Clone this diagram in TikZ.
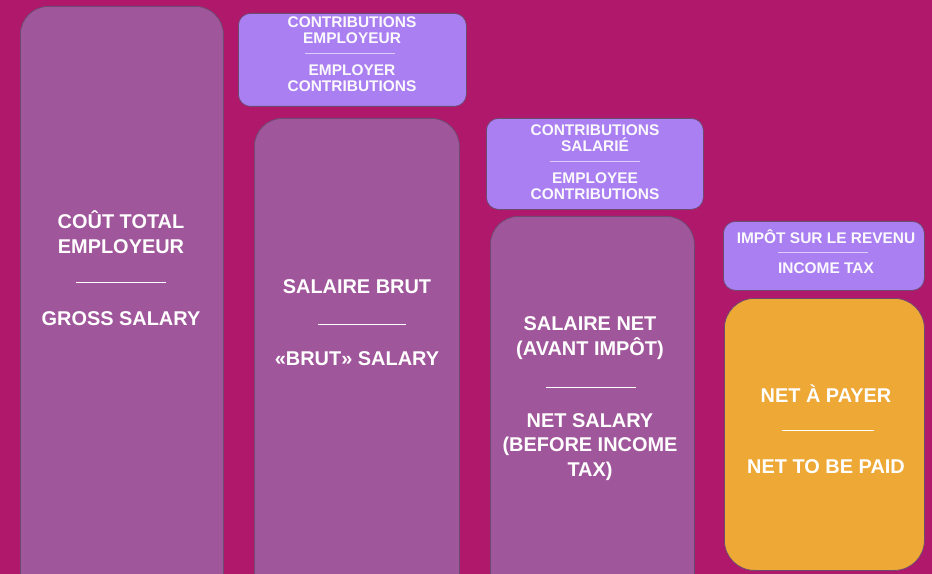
\documentclass[tikz,border=0pt]{standalone}
\usepackage{fontspec}
\setmainfont{Liberation Sans}
\definecolor{bgmag}{HTML}{B0186C}
\definecolor{salpurple}{HTML}{A0569A}
\definecolor{contrib}{HTML}{A97FF1}
\definecolor{netorange}{HTML}{EEA836}
\definecolor{boxedge}{HTML}{6E4A70}
\definecolor{softline}{HTML}{DCCDF8}
\tikzset{
  bigbox/.style={draw=boxedge, fill=salpurple, line width=0.8pt, rounded corners=28bp, anchor=north west, inner sep=0pt},
  smallbox/.style={draw=boxedge, fill=contrib, line width=0.8pt, rounded corners=12bp, anchor=north west, inner sep=0pt},
  biglabel/.style={text=white, align=center, font=\bfseries\fontsize{20}{24.5}\selectfont, inner sep=0pt},
  smalllabel/.style={text=white!95!contrib, align=center, font=\bfseries\fontsize{15.5}{15.5}\selectfont, inner sep=0pt},
  bigrule/.style={draw=white, line width=1pt},
  smallrule/.style={draw=softline, line width=1pt}
}
\begin{document}
\begin{tikzpicture}[x=1bp,y=-1bp]
\useasboundingbox (0,0) rectangle (932,574);
\clip (0,0) rectangle (932,574);
\fill[bgmag] (-2,-2) rectangle (934,576);
% main columns
\node[bigbox, minimum width=203bp, minimum height=620bp] (gross) at (20,6) {};
\node[bigbox, minimum width=205bp, minimum height=520bp] (brut) at (254,118) {};
\node[bigbox, minimum width=204bp, minimum height=420bp] (net) at (490,216) {};
\node[bigbox, fill=netorange, rounded corners=30bp, minimum width=200bp, minimum height=272bp] (topay) at (724,298) {};
% deductions
\node[smallbox, minimum width=228bp, minimum height=93bp] (employer) at (238,13) {};
\node[smallbox, minimum width=217bp, minimum height=91bp] (employee) at (486,118) {};
\node[smallbox, minimum width=201bp, minimum height=69bp] (tax) at (723,221) {};
% labels
\node[biglabel] (grossfr) at (121,232) {COÛT TOTAL\\EMPLOYEUR};
\draw[bigrule] (76,282) -- (166,282);
\node[biglabel] (grossen) at (121,319) {GROSS SALARY};
\node[biglabel] (brutfr) at (357,287) {SALAIRE BRUT};
\draw[bigrule] (318,324) -- (406,324);
\node[biglabel] (bruten) at (357,359) {«BRUT» SALARY};
\node[biglabel] (netfr) at (590,338) {SALAIRE NET\\(AVANT IMPÔT)};
\draw[bigrule] (546,387) -- (636,387);
\node[biglabel] (neten) at (590,447) {NET SALARY\\(BEFORE INCOME\\TAX)};
\node[biglabel] (topayfr) at (826,394) {NET À PAYER};
\draw[bigrule] (782,430) -- (874,430);
\node[biglabel] (topayen) at (826,467) {NET TO BE PAID};
\node[smalllabel] (employerfr) at (352,30) {CONTRIBUTIONS\\EMPLOYEUR};
\draw[smallrule] (305,54) -- (395,54);
\node[smalllabel] (employeren) at (352,78) {EMPLOYER\\CONTRIBUTIONS};
\node[smalllabel] (employeefr) at (595,138) {CONTRIBUTIONS\\SALARIÉ};
\draw[smallrule] (550,161) -- (640,161);
\node[smalllabel] (employeeen) at (595,186) {EMPLOYEE\\CONTRIBUTIONS};
\node[smalllabel] (taxfr) at (826,237) {IMPÔT SUR LE REVENU};
\draw[smallrule] (778,252) -- (868,252);
\node[smalllabel] (taxen) at (826,268) {INCOME TAX};
\end{tikzpicture}
\end{document}
